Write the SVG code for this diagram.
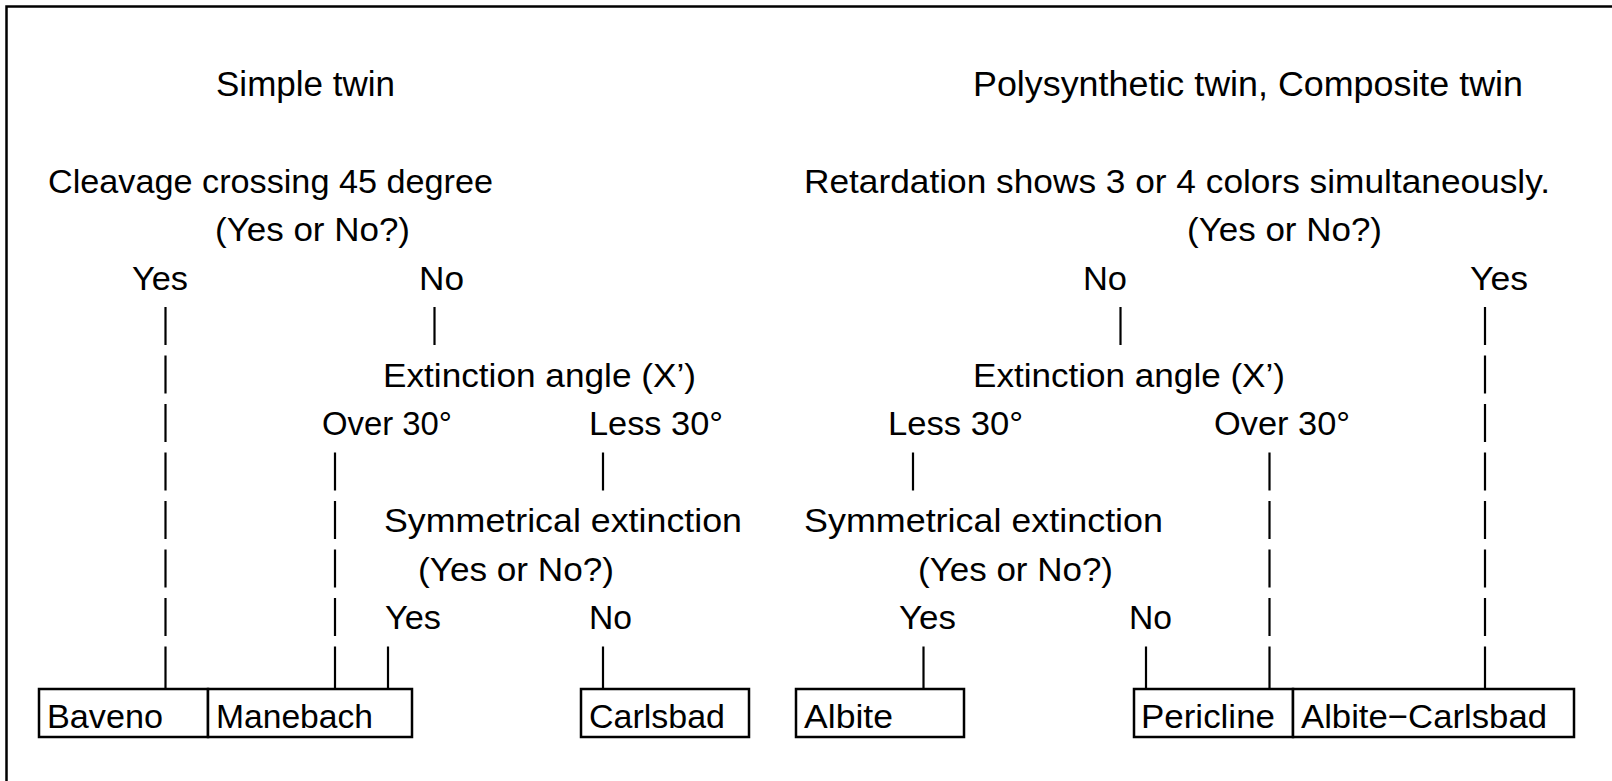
<svg xmlns="http://www.w3.org/2000/svg" width="1612" height="781" viewBox="0 0 1612 781">
<style>
text{font-family:"Liberation Sans",Arial,sans-serif;fill:#000;}
.t{font-size:35px;}
.b{font-size:34px;}
.box{fill:#fff;stroke:#000;stroke-width:2.5;}
.bar{stroke:#000;stroke-width:2.2;fill:none;}
.frame{stroke:#000;stroke-width:2.5;fill:none;}
</style>
<path class="frame" d="M6.5 790 V6.5 H1620"/>
<g id="connectors">
<!-- left: Yes column -->
<path class="bar" d="M165.5 307V345 M165.5 355.5V393.5 M165.5 404V442 M165.5 452.5V490.5 M165.5 501V539 M165.5 549.5V587.5 M165.5 598V636 M165.5 646.5V689"/>
<path class="bar" d="M434.5 307V345"/>
<path class="bar" d="M335 452.5V490.5 M335 501V539 M335 549.5V587.5 M335 598V636 M335 646.5V689"/>
<path class="bar" d="M603 452.5V490.5"/>
<path class="bar" d="M388 646.5V689"/>
<path class="bar" d="M603 646.5V689"/>
<!-- right -->
<path class="bar" d="M1120.5 307V345"/>
<path class="bar" d="M1485 307V345 M1485 355.5V393.5 M1485 404V442 M1485 452.5V490.5 M1485 501V539 M1485 549.5V587.5 M1485 598V636 M1485 646.5V689"/>
<path class="bar" d="M913 452.5V490.5"/>
<path class="bar" d="M1269.5 452.5V490.5 M1269.5 501V539 M1269.5 549.5V587.5 M1269.5 598V636 M1269.5 646.5V689"/>
<path class="bar" d="M923.5 646.5V689"/>
<path class="bar" d="M1146 646.5V689"/>
</g>
<g id="title-simple"><text class="t" x="216" y="96" textLength="179" lengthAdjust="spacingAndGlyphs">Simple twin</text></g>
<g id="title-poly"><text class="t" x="973" y="96" textLength="550" lengthAdjust="spacingAndGlyphs">Polysynthetic twin, Composite twin</text></g>

<g id="q-cleavage">
<text class="b" x="48" y="193" textLength="445" lengthAdjust="spacingAndGlyphs">Cleavage crossing 45 degree</text>
<text class="b" x="215" y="241" textLength="195" lengthAdjust="spacingAndGlyphs">(Yes or No?)</text>
</g>
<g id="l-yes1"><text class="b" x="132" y="289.5" textLength="56" lengthAdjust="spacingAndGlyphs">Yes</text></g>
<g id="l-no1"><text class="b" x="419" y="289.5" textLength="45" lengthAdjust="spacingAndGlyphs">No</text></g>
<g id="l-ext"><text class="b" x="383" y="386.5" textLength="313" lengthAdjust="spacingAndGlyphs">Extinction angle (X’)</text></g>
<g id="l-over"><text class="b" x="322" y="435" textLength="130" lengthAdjust="spacingAndGlyphs">Over 30°</text></g>
<g id="l-less"><text class="b" x="589" y="435" textLength="134" lengthAdjust="spacingAndGlyphs">Less 30°</text></g>
<g id="l-sym">
<text class="b" x="384" y="532" textLength="358" lengthAdjust="spacingAndGlyphs">Symmetrical extinction</text>
<text class="b" x="418" y="580.5" textLength="196" lengthAdjust="spacingAndGlyphs">(Yes or No?)</text>
</g>
<g id="l-yes2"><text class="b" x="385" y="629" textLength="56" lengthAdjust="spacingAndGlyphs">Yes</text></g>
<g id="l-no2"><text class="b" x="589" y="629" textLength="43" lengthAdjust="spacingAndGlyphs">No</text></g>
<g id="baveno"><rect class="box" x="39" y="689" width="169" height="48"/><text class="b" x="47" y="728" textLength="116" lengthAdjust="spacingAndGlyphs">Baveno</text></g>
<g id="manebach"><rect class="box" x="208" y="689" width="204" height="48"/><text class="b" x="216" y="728" textLength="157" lengthAdjust="spacingAndGlyphs">Manebach</text></g>
<g id="carlsbad"><rect class="box" x="581" y="689" width="168" height="48"/><text class="b" x="589" y="728" textLength="136" lengthAdjust="spacingAndGlyphs">Carlsbad</text></g>

<g id="q-retard">
<text class="b" x="804" y="193" textLength="746" lengthAdjust="spacingAndGlyphs">Retardation shows 3 or 4 colors simultaneously.</text>
<text class="b" x="1187" y="241" textLength="195" lengthAdjust="spacingAndGlyphs">(Yes or No?)</text>
</g>
<g id="r-no1"><text class="b" x="1083" y="289.5" textLength="44" lengthAdjust="spacingAndGlyphs">No</text></g>
<g id="r-yes1"><text class="b" x="1470" y="289.5" textLength="58" lengthAdjust="spacingAndGlyphs">Yes</text></g>
<g id="r-ext"><text class="b" x="973" y="386.5" textLength="312" lengthAdjust="spacingAndGlyphs">Extinction angle (X’)</text></g>
<g id="r-less"><text class="b" x="888" y="435" textLength="135" lengthAdjust="spacingAndGlyphs">Less 30°</text></g>
<g id="r-over"><text class="b" x="1214" y="435" textLength="136" lengthAdjust="spacingAndGlyphs">Over 30°</text></g>
<g id="r-sym">
<text class="b" x="804" y="532" textLength="359" lengthAdjust="spacingAndGlyphs">Symmetrical extinction</text>
<text class="b" x="918" y="580.5" textLength="195" lengthAdjust="spacingAndGlyphs">(Yes or No?)</text>
</g>
<g id="r-yes2"><text class="b" x="899" y="629" textLength="57" lengthAdjust="spacingAndGlyphs">Yes</text></g>
<g id="r-no2"><text class="b" x="1129" y="629" textLength="43" lengthAdjust="spacingAndGlyphs">No</text></g>
<g id="albite"><rect class="box" x="796" y="689" width="168" height="48"/><text class="b" x="804" y="728" textLength="89" lengthAdjust="spacingAndGlyphs">Albite</text></g>
<g id="pericline"><rect class="box" x="1134" y="689" width="159" height="48"/><text class="b" x="1141" y="728" textLength="134" lengthAdjust="spacingAndGlyphs">Pericline</text></g>
<g id="albite-carlsbad"><rect class="box" x="1293" y="689" width="281" height="48"/><text class="b" x="1301" y="728" textLength="246" lengthAdjust="spacingAndGlyphs">Albite−Carlsbad</text></g>
</svg>
